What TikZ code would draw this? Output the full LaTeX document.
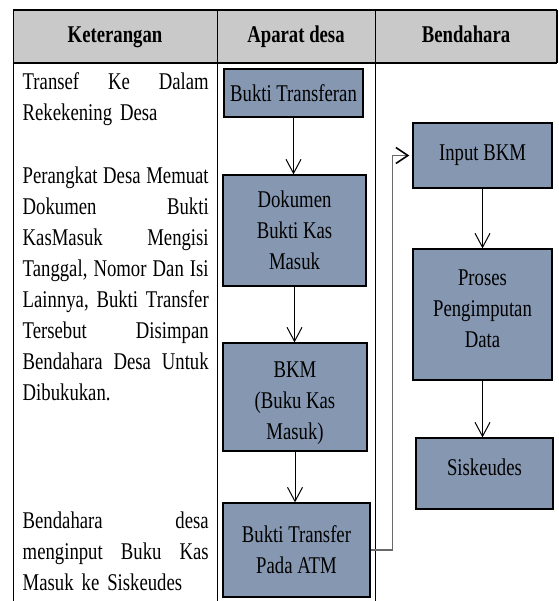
\documentclass[tikz,border=0pt]{standalone}
\usepackage{fontspec}
\setmainfont{Liberation Serif}[FakeStretch=0.78]
\usetikzlibrary{arrows.meta}
\definecolor{boxfill}{RGB}{133,151,177}
\definecolor{headfill}{RGB}{201,201,201}
\definecolor{connline}{RGB}{105,105,105}
\newcommand{\Jline}[1]{\noindent\hbox to 186pt{#1}}
\begin{document}
\begin{tikzpicture}[x=1pt,y=-1pt,
  flowbox/.style={draw=black, line width=1.3pt, fill=boxfill, align=center, inner sep=0pt,
    font=\fontsize{24}{31}\selectfont},
  boxtext/.style={align=center, inner sep=0pt, font=\fontsize{24}{31}\selectfont},
  headtext/.style={anchor=base, font=\fontsize{24}{28}\selectfont\bfseries},
  lefttext/.style={anchor=north west, inner sep=0pt, align=left, text width=186pt,
    font=\fontsize{24}{31}\selectfont},
  flowarrow/.style={-{Straight Barb[length=14pt,width=15pt]}, line width=1pt},
  connector/.style={draw=connline, line width=1.6pt},
  tableline/.style={line width=0.9pt},
  headline/.style={line width=1.4pt}]
\useasboundingbox (0,0) rectangle (558,601);
% header
\path[fill=headfill] (13,10) rectangle (557,63);
\draw[headline] (13,10) -- (557,10);
\draw[headline] (13,63) -- (557,63);
\draw[headline] (557,10) -- (557,63);
\draw[tableline] (13,10) -- (13,601);
\draw[tableline] (217,10) -- (217,601);
\draw[tableline] (375,10) -- (375,601);
\node[headtext] (hk) at (115,43) {Keterangan};
\node[headtext] (ha) at (296,43) {Aparat desa};
\node[headtext] (hb) at (466,43) {Bendahara};
% left column
\node[lefttext] (k1) at (22.5,72.5) {\Jline{Transef\hfill Ke\hfill Dalam}\\Rekekening Desa};
\node[lefttext] (k2) at (22.5,166.5) {\Jline{Perangkat\hfill Desa\hfill Memuat}\\
  \Jline{Dokumen\hfill Bukti}\\
  \Jline{KasMasuk\hfill Mengisi}\\
  \Jline{Tanggal,\hfill Nomor\hfill Dan\hfill Isi}\\
  \Jline{Lainnya,\hfill Bukti\hfill Transfer}\\
  \Jline{Tersebut\hfill Disimpan}\\
  \Jline{Bendahara\hfill Desa\hfill Untuk}\\
  Dibukukan.};
\node[lefttext] (k3) at (22.5,511.5) {\Jline{Bendahara\hfill desa}\\
  \Jline{menginput\hfill Buku\hfill Kas}\\
  Masuk ke Siskeudes};
% aparat desa boxes
\node[flowbox, minimum width=139pt, minimum height=48pt] (bt) at (293.5,93) {Bukti Transferan};
\node[flowbox, minimum width=143pt, minimum height=111pt] (dok) at (294.5,230.5) {Dokumen\\Bukti Kas\\Masuk};
\node[flowbox, minimum width=144pt, minimum height=108pt] (bkm) at (295,397) {};
\node[boxtext] (bkmt) at (295,403) {BKM\\(Buku Kas\\Masuk)};
\node[flowbox, minimum width=147pt, minimum height=94pt] (atm) at (296.5,550) {Bukti Transfer\\Pada ATM};
% bendahara boxes
\node[flowbox, minimum width=139pt, minimum height=65pt] (inp) at (482.5,155.5) {Input BKM};
\node[flowbox, minimum width=139pt, minimum height=131pt] (pro) at (482.5,314.5) {};
\node[boxtext] (prot) at (482.5,309) {Proses\\Pengimputan\\Data};
\node[flowbox, minimum width=137pt, minimum height=71pt] (sis) at (484.5,473.5) {};
\node[boxtext] (sist) at (484.5,467) {Siskeudes};
% arrows
\draw[flowarrow] (bt.south) -- (bt.south |- dok.north);
\draw[flowarrow] (dok.south) -- (dok.south |- bkm.north);
\draw[flowarrow] (bkm.south) -- (bkm.south |- atm.north);
\draw[flowarrow] (inp.south) -- (inp.south |- pro.north);
\draw[flowarrow] (pro.south) -- (pro.south |- sis.north);
\draw[connector, shorten >=3pt, -{Straight Barb[length=12pt,width=16pt,color=black]}] (atm.east) -- ++(22,0) |- (inp.west);
\end{tikzpicture}
\end{document}
